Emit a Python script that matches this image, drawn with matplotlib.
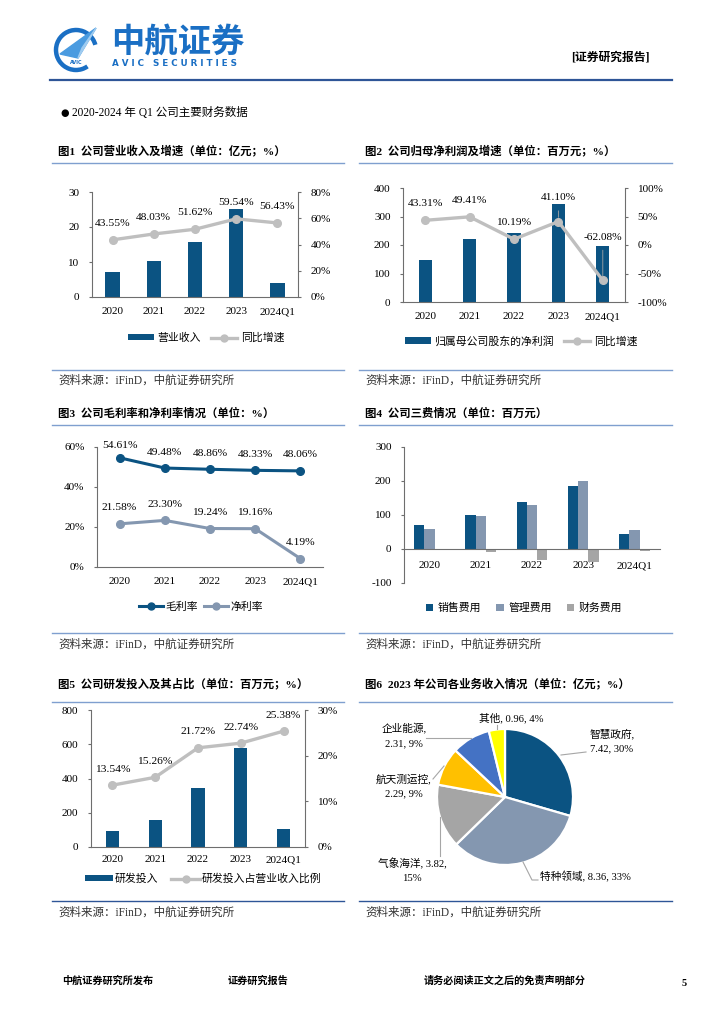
import matplotlib
matplotlib.use('Agg')
import numpy as np
import matplotlib.pyplot as plt
from matplotlib.patches import Patch, Arc, Polygon
from matplotlib.lines import Line2D
from matplotlib.ticker import FuncFormatter

plt.rcParams['font.family'] = ['Liberation Serif', 'Noto Sans CJK SC', 'DejaVu Sans']
plt.rcParams['axes.unicode_minus'] = False

# ---------------- data ----------------
years = ['2020', '2021', '2022', '2023', '2024Q1']
revenue = [7.05, 10.3, 15.7, 25.2, 4.1]
revenue_yoy = [43.55, 48.03, 51.62, 59.54, 56.43]
net_profit = [149, 221, 243, 343, 195]
net_profit_yoy = [43.31, 49.41, 10.19, 41.10, -62.08]
gross_margin = [54.61, 49.48, 48.86, 48.33, 48.06]
net_margin = [21.58, 23.30, 19.24, 19.16, 4.19]
selling_exp = [70, 99, 137, 186, 45]
admin_exp = [60, 97, 129, 200, 57]
finance_exp = [-1, -10, -32, -37, -7]
rd_exp = [94, 158, 345, 576, 105]
rd_ratio = [13.54, 15.26, 21.72, 22.74, 25.38]
seg_names = ['智慧政府', '特种领域', '气象海洋', '航天测运控', '企业能源', '其他']
seg_values = [7.42, 8.36, 3.82, 2.29, 2.31, 0.96]
seg_pct = ['30%', '33%', '15%', '9%', '9%', '4%']

# ---------------- style ----------------
DARK = '#0B5382'
STEEL = '#8497B0'
GRAY = '#A5A5A5'
LGRAY = '#BFBFBF'
SPINE = '#6E6E6E'
TITLE_LINE = '#7F9FCF'
NAVY = '#2E5597'
PIE_COLORS = ['#0B5382', '#8497B0', '#A5A5A5', '#FFC000', '#4472C4', '#FFFF00']
TICK_FS = 8
LBL_FS = 8.2
LEG_FS = 7.8

W, H = 724, 1024
fig = plt.figure(figsize=(W / 100, H / 100), dpi=100)


def fx(x):
    return x / W


def fy(y):
    return 1 - y / H


def add_ax(l, t, r, b):
    return fig.add_axes([fx(l), fy(b), (r - l) / W, (b - t) / H])


def hline(y, x0, x1, color, lw=1.0):
    fig.add_artist(Line2D([fx(x0), fx(x1)], [fy(y), fy(y)], color=color, lw=lw,
                          transform=fig.transFigure))


def ftext(x, y, s, **kw):
    kw.setdefault('va', 'center')
    fig.text(fx(x), fy(y), s, **kw)


pct = FuncFormatter(lambda v, p: f'{v:.0f}%')
x = np.arange(len(years))


def base_style(ax, spines):
    for s in ['top', 'right', 'left', 'bottom']:
        ax.spines[s].set_visible(s in spines)
        ax.spines[s].set_color(SPINE)
        ax.spines[s].set_linewidth(0.8)
    ax.tick_params(axis='y', direction='out', length=2.5, width=0.8, color=SPINE,
                   labelsize=TICK_FS, pad=6.5)
    ax.tick_params(axis='x', length=0, labelsize=TICK_FS, pad=7.5)


def data_labels(ax, xs, vals, offs, arrows=None):
    for i, (xi, v) in enumerate(zip(xs, vals)):
        arr = None
        if arrows and arrows[i]:
            arr = dict(arrowstyle='-', color='#A6A6A6', lw=0.6, shrinkA=4, shrinkB=3)
        ax.annotate(f'{v:.2f}%', (xi, v), xytext=(0, offs[i]), textcoords='offset points',
                    ha='center', va='center', fontsize=LBL_FS, arrowprops=arr, zorder=5)


# ---------------- header ----------------
axl = add_ax(52, 24, 104, 74)
axl.set_xlim(0, 52)
axl.set_ylim(50, 0)
axl.axis('off')
axl.add_patch(Arc((24, 26), 40, 40, theta1=55, theta2=345, lw=3.2, color='#1A6FC4'))
axl.add_patch(Polygon([[8, 30], [44, 4], [26, 34]], closed=True, color='#4A9BE0'))
axl.add_patch(Polygon([[26, 34], [44, 4], [30, 24]], closed=True, color='#9ECBF0'))
axl.text(24, 38, 'AVIC', fontsize=3.5, color='#1A6FC4', ha='center', va='center',
         family=['DejaVu Sans'], weight='bold')
ftext(111, 43, '中航证券', fontsize=24, color='#1A6FC4', weight='bold',
      family=['Noto Sans CJK SC'])
ftext(112, 64, 'A V I C   S E C U R I T I E S', fontsize=6.3, color='#1A6FC4',
      family=['DejaVu Sans'], weight='bold')
ftext(571, 58, '[证券研究报告]', fontsize=8.5, weight='bold')
hline(80, 50, 672, NAVY, lw=1.6)

ftext(60, 113, '●', fontsize=7, family=['DejaVu Sans'])
ftext(72, 113, '2020-2024 年 Q1 公司主要财务数据', fontsize=8.3)

# titles / lines / sources
titles = [
    (58, 150, '图1  公司营业收入及增速（单位：亿元；%）'),
    (365, 150, '图2  公司归母净利润及增速（单位：百万元；%）'),
    (58, 413, '图3  公司毛利率和净利率情况（单位：%）'),
    (365, 413, '图4  公司三费情况（单位：百万元）'),
    (58, 683, '图5  公司研发投入及其占比（单位：百万元；%）'),
    (365, 683, '图6  2023 年公司各业务收入情况（单位：亿元；%）'),
]
for tx, ty, s in titles:
    ftext(tx, ty, s, fontsize=8.2, weight='bold')
for y in (163, 425, 702):
    hline(y, 52, 344, TITLE_LINE, lw=1.0)
    hline(y, 359, 672, TITLE_LINE, lw=1.0)
for y in (370, 633):
    hline(y, 52, 344, TITLE_LINE, lw=1.0)
    hline(y, 359, 672, TITLE_LINE, lw=1.0)
hline(901, 52, 344, NAVY, lw=1.0)
hline(901, 359, 672, NAVY, lw=1.0)
for sx, sy in [(58, 381), (365, 381), (58, 645), (365, 645), (58, 913), (365, 913)]:
    ftext(sx, sy, '资料来源：iFinD，中航证券研究所', fontsize=8.3, color='#333333')

# footer
ftext(62, 981, '中航证券研究所发布', fontsize=7.3, weight='bold')
ftext(228, 981, '证券研究报告', fontsize=7.3, weight='bold')
ftext(424, 981, '请务必阅读正文之后的免责声明部分', fontsize=7.3, weight='bold')
ftext(682, 983, '5', fontsize=7.5, weight='bold')

# ---------------- chart 1 ----------------
ax1 = add_ax(92, 192, 298, 297)
ax1.bar(x, revenue, width=0.35, color=DARK, zorder=2)
ax1.set_xlim(-0.5, 4.5)
ax1.set_ylim(0, 30)
ax1.set_yticks([0, 10, 20, 30])
ax1.set_xticks(x)
ax1.set_xticklabels(years)
base_style(ax1, ['left', 'bottom'])
ax1b = ax1.twinx()
ax1b.plot(x, revenue_yoy, color=LGRAY, lw=2.4, marker='o', ms=5.5, zorder=3)
ax1b.set_ylim(0, 80)
ax1b.set_yticks(range(0, 81, 20))
ax1b.yaxis.set_major_formatter(pct)
base_style(ax1b, ['right'])
data_labels(ax1b, x, revenue_yoy, [12] * 5)
fig.legend([Patch(facecolor=DARK), Line2D([], [], color=LGRAY, lw=2.4, marker='o', ms=5)],
           ['营业收入', '同比增速'], loc='center', bbox_to_anchor=(fx(206), fy(338)), ncol=2,
           frameon=False, fontsize=LEG_FS, handlelength=2.4, handleheight=0.5,
           columnspacing=1.0, handletextpad=0.3)

# ---------------- chart 2 ----------------
ax2 = add_ax(403, 188, 625, 302)
ax2.bar(x, net_profit, width=0.3, color=DARK, zorder=2)
ax2.set_xlim(-0.5, 4.5)
ax2.set_ylim(0, 400)
ax2.set_yticks(range(0, 401, 100))
ax2.set_xticks(x)
ax2.set_xticklabels(years)
base_style(ax2, ['left', 'bottom'])
ax2b = ax2.twinx()
ax2b.plot(x, net_profit_yoy, color=LGRAY, lw=2.4, marker='o', ms=5.5, zorder=3)
ax2b.set_ylim(-100, 100)
ax2b.set_yticks(range(-100, 101, 50))
ax2b.yaxis.set_major_formatter(pct)
base_style(ax2b, ['right'])
data_labels(ax2b, x, net_profit_yoy, [12, 12, 12, 17, 31], arrows=[0, 0, 0, 1, 1])
fig.legend([Patch(facecolor=DARK), Line2D([], [], color=LGRAY, lw=2.4, marker='o', ms=5)],
           ['归属母公司股东的净利润', '同比增速'], loc='center',
           bbox_to_anchor=(fx(521), fy(341)), ncol=2, frameon=False, fontsize=LEG_FS,
           handlelength=2.4, handleheight=0.5, columnspacing=1.0, handletextpad=0.3)

# ---------------- chart 3 ----------------
ax3 = add_ax(97, 447, 323, 567)
ax3.plot(x, gross_margin, color=DARK, lw=2.2, marker='o', ms=5.5, zorder=3)
ax3.plot(x, net_margin, color=STEEL, lw=2.2, marker='o', ms=5.5, zorder=3)
ax3.set_xlim(-0.5, 4.5)
ax3.set_ylim(0, 60)
ax3.set_yticks(range(0, 61, 20))
ax3.yaxis.set_major_formatter(pct)
ax3.set_xticks(x)
ax3.set_xticklabels(years)
base_style(ax3, ['left', 'bottom'])
data_labels(ax3, x, gross_margin, [9, 11.5, 11.5, 11.5, 11.5])
data_labels(ax3, x, net_margin, [11.5] * 5)
fig.legend([Line2D([], [], color=DARK, lw=2.2, marker='o', ms=5),
            Line2D([], [], color=STEEL, lw=2.2, marker='o', ms=5)],
           ['毛利率', '净利率'], loc='center', bbox_to_anchor=(fx(201), fy(607)), ncol=2,
           frameon=False, fontsize=LEG_FS, handlelength=2.2, columnspacing=0.6,
           handletextpad=0.2)

# ---------------- chart 4 ----------------
ax4 = add_ax(404, 447, 660, 583)
bw = 0.2
ax4.bar(x - bw, selling_exp, width=bw, color=DARK, label='销售费用', zorder=2)
ax4.bar(x, admin_exp, width=bw, color=STEEL, label='管理费用', zorder=2)
ax4.bar(x + bw, finance_exp, width=bw, color=GRAY, label='财务费用', zorder=2)
ax4.set_xlim(-0.5, 4.5)
ax4.set_ylim(-100, 300)
ax4.set_yticks(range(-100, 301, 100))
ax4.set_xticks(x)
ax4.set_xticklabels(years)
base_style(ax4, ['left', 'bottom'])
ax4.spines['bottom'].set_position(('data', 0))
ax4.tick_params(axis='x', pad=9)
fig.legend(*ax4.get_legend_handles_labels(), loc='center', bbox_to_anchor=(fx(524), fy(608)),
           ncol=3, frameon=False, fontsize=LEG_FS, handlelength=0.7, handleheight=0.7,
           columnspacing=1.4, handletextpad=0.4)

# ---------------- chart 5 ----------------
ax5 = add_ax(91, 710, 305, 847)
ax5.bar(x, rd_exp, width=0.31, color=DARK, zorder=2)
ax5.set_xlim(-0.5, 4.5)
ax5.set_ylim(0, 800)
ax5.set_yticks(range(0, 801, 200))
ax5.set_xticks(x)
ax5.set_xticklabels(years)
base_style(ax5, ['left', 'bottom'])
ax5.tick_params(axis='x', pad=6)
ax5b = ax5.twinx()
ax5b.plot(x, rd_ratio, color=LGRAY, lw=2.4, marker='o', ms=5.5, zorder=3)
ax5b.set_ylim(0, 30)
ax5b.set_yticks(range(0, 31, 10))
ax5b.yaxis.set_major_formatter(pct)
base_style(ax5b, ['right'])
data_labels(ax5b, x, rd_ratio, [11.5] * 5)
fig.legend([Patch(facecolor=DARK), Line2D([], [], color=LGRAY, lw=2.4, marker='o', ms=5)],
           ['研发投入', '研发投入占营业收入比例'], loc='center',
           bbox_to_anchor=(fx(203), fy(879)), ncol=2, frameon=False, fontsize=LEG_FS,
           handlelength=2.6, handleheight=0.5, columnspacing=1.2, handletextpad=0.2)

# ---------------- chart 6 (pie) ----------------
CX, CY, R = 505, 797, 68
HW, HH = 150, 110
ax6 = add_ax(CX - HW, CY - HH, CX + HW, CY + HH)
ax6.pie(seg_values, colors=PIE_COLORS, startangle=90, counterclock=False, radius=1,
        wedgeprops=dict(edgecolor='white', linewidth=1.6))
ax6.set_xlim(-HW / R, HW / R)
ax6.set_ylim(-HH / R, HH / R)
ax6.set_aspect('auto')
ax6.axis('off')


def pp(xp, yp):
    return ((xp - CX) / R, -(yp - CY) / R)


# label layout: (text position px, ha, line break after name, after value, leader path px)
pie_layout = [
    ((590, 741), 'left', True, False, [(561, 755), (586, 752)]),
    ((540, 877), 'left', False, False, [(523, 862), (532, 880), (538, 880)]),
    ((412, 870), 'center', False, True, [(440, 817), (440, 856)]),
    ((404, 786), 'center', True, False, [(444, 766), (433, 779)]),
    ((404, 736), 'center', True, False, [(471, 738), (426, 738)]),
    ((511, 718), 'center', False, False, [(497, 729), (497, 725)]),
]
for name, val, pc, (pos, ha, br1, br2, path) in zip(seg_names, seg_values, seg_pct, pie_layout):
    s = name + (',\n' if br1 else ', ') + f'{val:.2f}' + (',\n' if br2 else ', ') + pc
    tx, ty = pp(*pos)
    ax6.text(tx, ty, s, ha=ha, va='center', fontsize=7.7, linespacing=1.7,
             multialignment='center' if ha == 'center' else 'left')
    pts = [pp(*p) for p in path]
    ax6.plot([p[0] for p in pts], [p[1] for p in pts], color='#A6A6A6', lw=0.8)

fig.savefig('out.png', dpi=100)
